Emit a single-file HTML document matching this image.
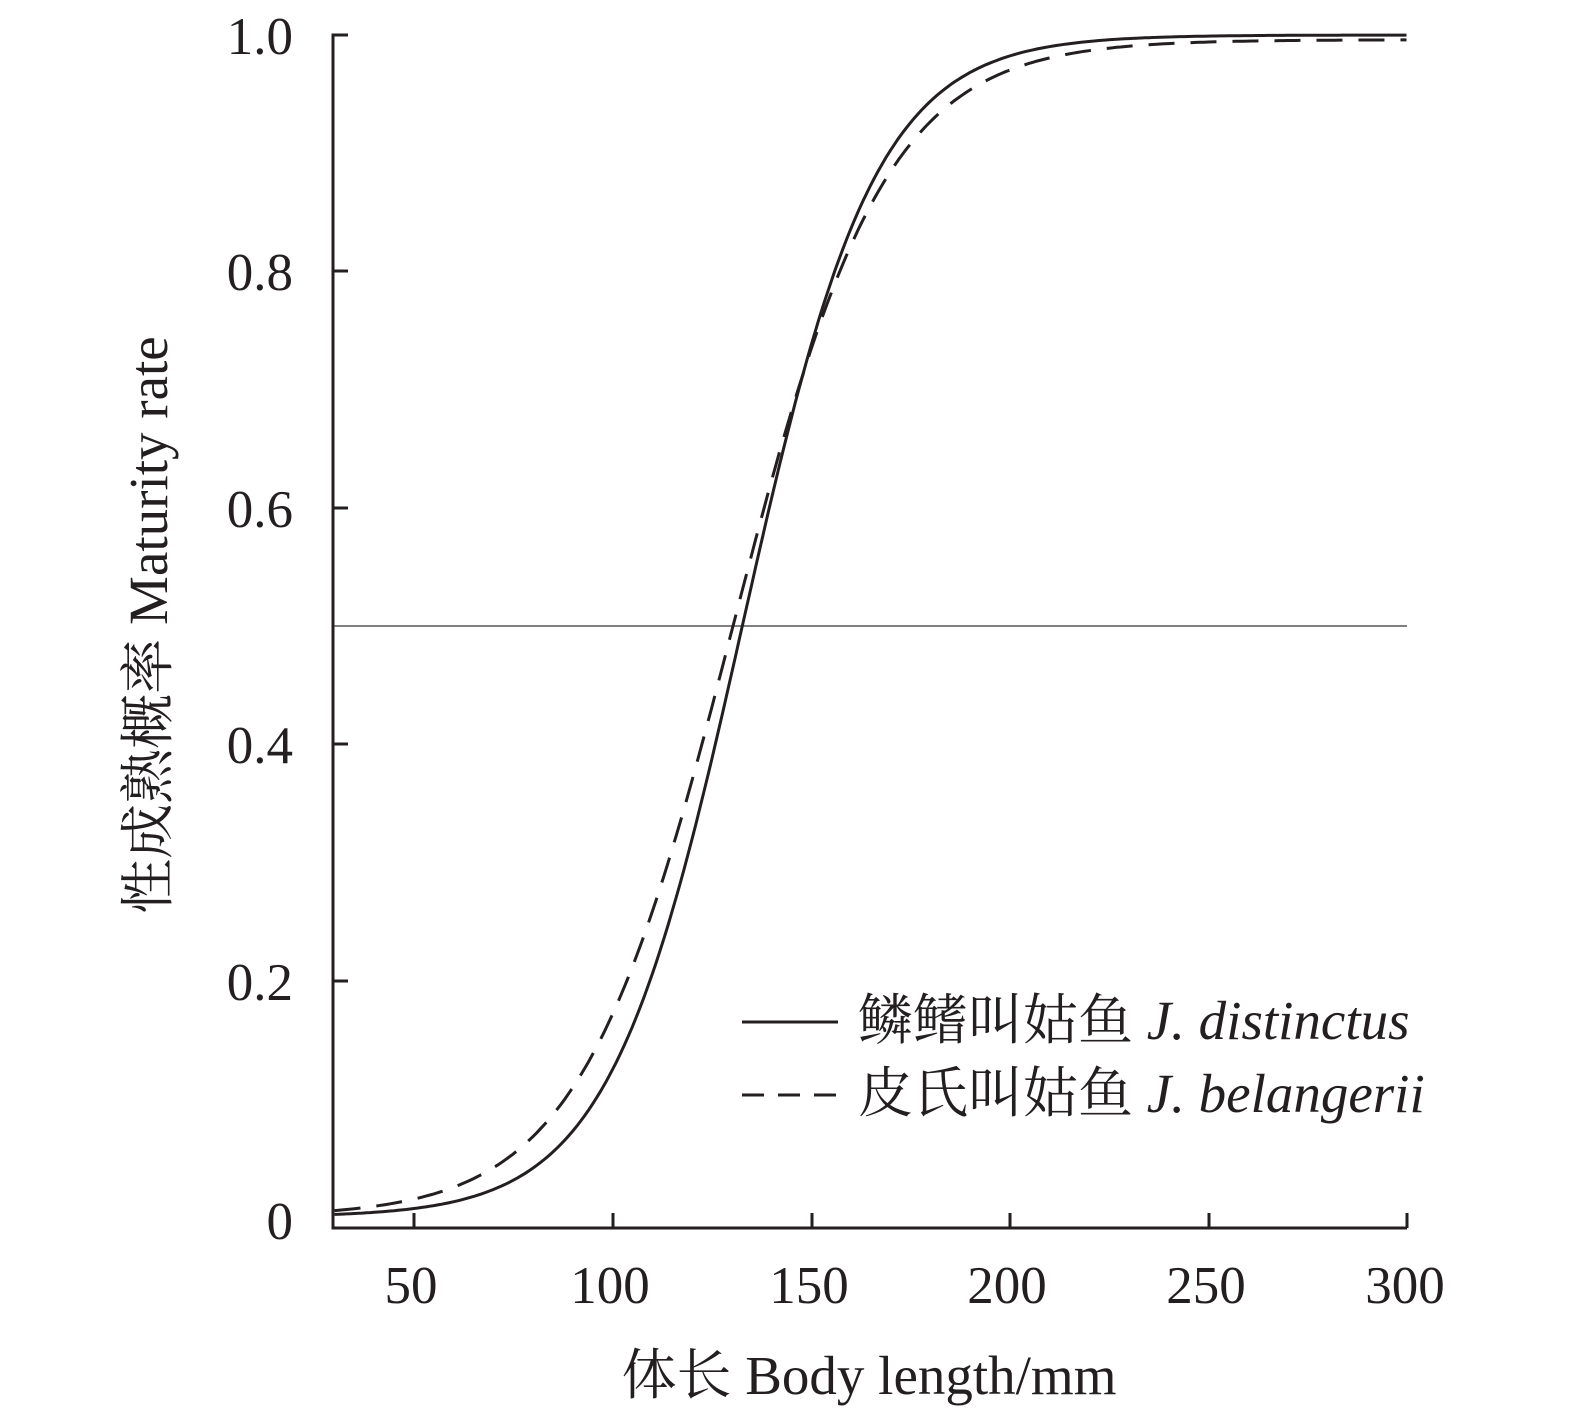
<!DOCTYPE html>
<html><head><meta charset="utf-8"><style>
body{margin:0;background:#fff}
svg text{font-family:"Liberation Serif","Noto Serif CJK SC",serif;fill:#231f20}
</style></head><body>
<svg id="s" width="1575" height="1419" xmlns="http://www.w3.org/2000/svg">
<line x1="333" y1="626" x2="1407" y2="626" stroke="#808080" stroke-width="2"/>
<path id="p1" fill="none" stroke="#231f20" stroke-width="3"/>
<path id="p2" fill="none" stroke="#231f20" stroke-width="3" stroke-dasharray="26,16"/>
<polyline points="348,35 333,35 333,1228 1407,1228" fill="none" stroke="#231f20" stroke-width="3"/>
<g stroke="#231f20" stroke-width="3">
<line x1="333" y1="271" x2="348" y2="271"/><line x1="333" y1="508" x2="348" y2="508"/>
<line x1="333" y1="744" x2="348" y2="744"/><line x1="333" y1="981" x2="348" y2="981"/>
<line x1="414" y1="1228" x2="414" y2="1213"/><line x1="613" y1="1228" x2="613" y2="1213"/>
<line x1="812" y1="1228" x2="812" y2="1213"/><line x1="1010" y1="1228" x2="1010" y2="1213"/>
<line x1="1209" y1="1228" x2="1209" y2="1213"/><line x1="1407" y1="1228" x2="1407" y2="1213"/>
</g>
<g font-size="53" text-anchor="end">
<text x="293" y="54">1.0</text><text x="293" y="290">0.8</text><text x="293" y="527">0.6</text>
<text x="293" y="763">0.4</text><text x="293" y="1000">0.2</text><text x="293" y="1239">0</text>
</g>
<g font-size="53" text-anchor="middle">
<text x="411" y="1303">50</text><text x="610" y="1303">100</text><text x="809" y="1303">150</text>
<text x="1007" y="1303">200</text><text x="1206" y="1303">250</text><text x="1405" y="1303">300</text>
</g>
<g font-size="55" text-anchor="middle">
<text x="869" y="1394">体长 Body length/mm</text>
<text transform="translate(167,625) rotate(-90)">性成熟概率 Maturity rate</text>
</g>
<line x1="742" y1="1022" x2="838" y2="1022" stroke="#231f20" stroke-width="3"/>
<line x1="742" y1="1095" x2="838" y2="1095" stroke="#231f20" stroke-width="3" stroke-dasharray="22,14"/>
<g font-size="55">
<text x="858" y="1039">鳞鳍叫姑鱼 <tspan font-style="italic">J. distinctus</tspan></text>
<text x="858" y="1112">皮氏叫姑鱼 <tspan font-style="italic">J. belangerii</tspan></text>
</g>
<script>
function mk(id,L,k,top){var d="";for(var x=30;x<=300;x+=1){var v=top/(1+Math.exp(-k*(x-L)));var px=414+(x-50)*3.97,py=1217-v*1182;d+=(x==30?"M":"L")+px.toFixed(1)+","+py.toFixed(1);}document.getElementById(id).setAttribute("d",d);}
mk("p1",132.7,0.0596,1.0);mk("p2",130.2,0.052,0.996);
</script>
</svg>
</body></html>
